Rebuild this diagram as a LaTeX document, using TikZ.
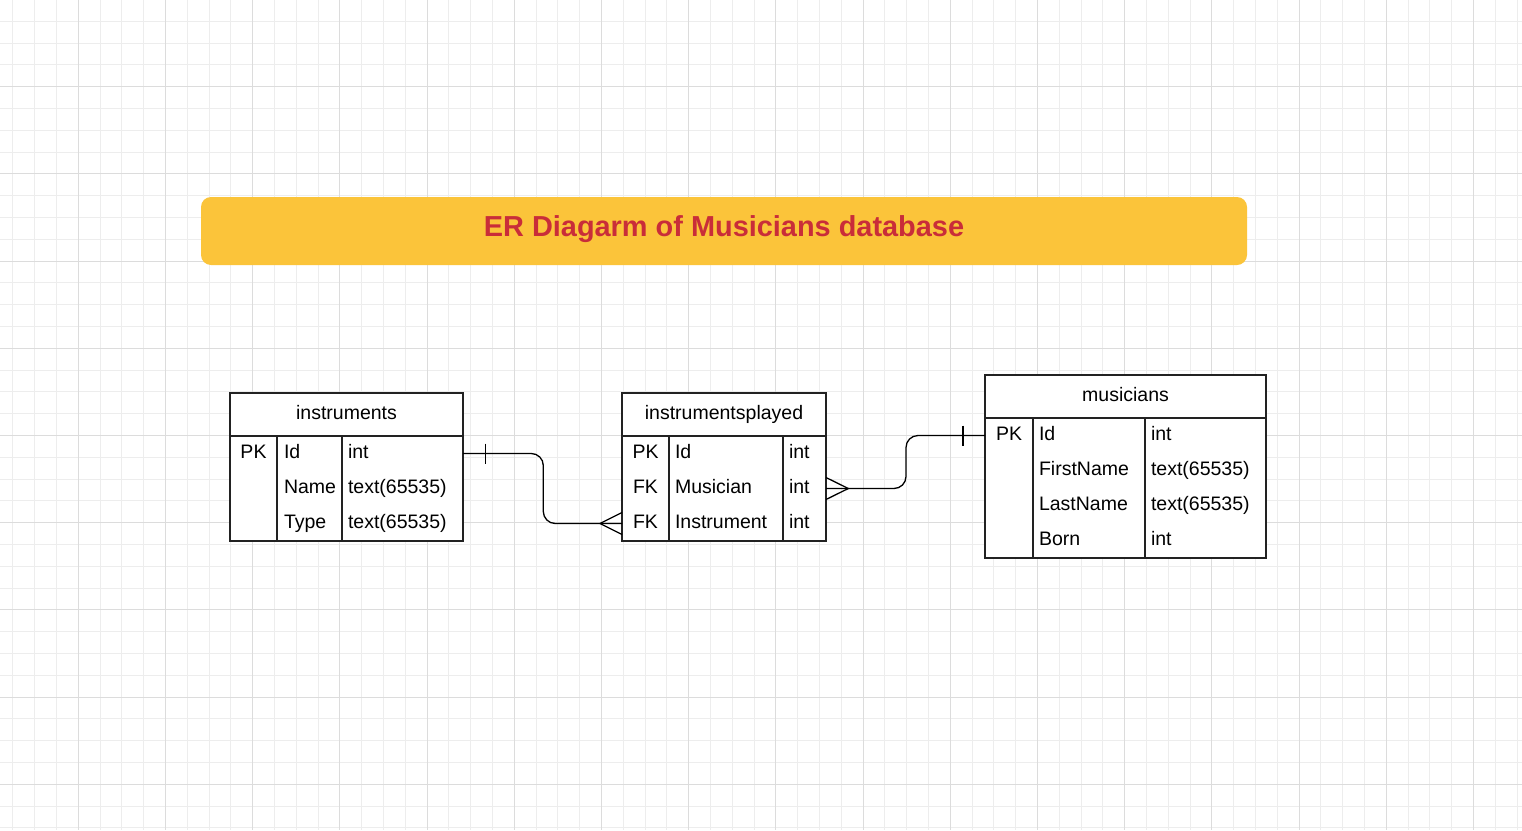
\documentclass[tikz,border=0pt]{standalone}
\usepackage{fontspec}
\setmainfont{Liberation Sans}
\usetikzlibrary{calc}
\definecolor{gridminor}{HTML}{EDEDED}
\definecolor{gridmajor}{HTML}{DCDCDC}
\definecolor{titlefill}{HTML}{FBC43A}
\definecolor{titlered}{HTML}{C92D39}
\definecolor{tblline}{HTML}{222222}
\begin{document}
\begin{tikzpicture}[x=1pt,y=-1pt,
  every node/.style={inner sep=0pt, outer sep=0pt, font=\fontsize{19.5}{23}\selectfont},
  minorline/.style={draw=gridminor, line width=1pt},
  majorline/.style={draw=gridmajor, line width=1pt},
  tblbox/.style={draw=tblline, line width=1.3pt, fill=white, rectangle},
  sepline/.style={draw=tblline, line width=1.3pt},
  cellL/.style={anchor=base west},
  cellC/.style={anchor=base},
  conn/.style={draw=black, line width=1.3pt, rounded corners=12pt},
  erdmark/.style={draw=black, line width=1.3pt},
  titlebox/.style={fill=titlefill, rounded corners=10pt, rectangle},
  titletext/.style={anchor=base, text=titlered, font=\fontsize{28.9}{34}\selectfont\bfseries}
]
\useasboundingbox (0,0) rectangle (1522,830);
\fill[white] (0,0) rectangle (1522,830);
% grid
\begin{scope}
\clip (0,0) rectangle (1522,830);
\foreach \i in {0,...,69} {\draw[minorline] ({12.8+21.8*\i},0) -- ++(0,830);}
\foreach \j in {0,...,38} {\draw[minorline] (0,{21.3+21.8*\j}) -- ++(1522,0);}
\foreach \i in {0,...,16} {\draw[majorline] ({78.2+87.2*\i},0) -- ++(0,830);}
\foreach \j in {0,...,8} {\draw[majorline] (0,{86.7+87.2*\j}) -- ++(1522,0);}
\end{scope}

% title
\node[titlebox, minimum width=1046pt, minimum height=68pt] (titlebox) at (724,231) {};
\node[titletext] (title) at (724,236.7) {ER Diagarm of Musicians database};

% table: instruments
\node[tblbox, minimum width=233pt, minimum height=148pt] (instruments) at (346.5,467) {};
\draw[sepline] (230,436) -- (463,436);
\draw[sepline] (277,436) -- (277,541);
\draw[sepline] (342,436) -- (342,541);
\node[cellC] (i-h) at (346.5,419.3) {instruments};
\node[cellC] (i-pk) at (253.5,458.5) {PK};
\node[cellL] (i-n1) at (284,458.5) {Id};
\node[cellL] (i-t1) at (348,458.5) {int};
\node[cellL] (i-n2) at (284,493.5) {Name};
\node[cellL] (i-t2) at (348,493.5) {text(65535)};
\node[cellL] (i-n3) at (284,528.5) {Type};
\node[cellL] (i-t3) at (348,528.5) {text(65535)};

% table: instrumentsplayed
\node[tblbox, minimum width=204pt, minimum height=148pt] (played) at (724,467) {};
\draw[sepline] (622,436) -- (826,436);
\draw[sepline] (669,436) -- (669,541);
\draw[sepline] (783,436) -- (783,541);
\node[cellC] (p-h) at (724,419.3) {instrumentsplayed};
\node[cellC] (p-k1) at (645.5,458.5) {PK};
\node[cellL] (p-n1) at (675,458.5) {Id};
\node[cellL] (p-t1) at (789,458.5) {int};
\node[cellC] (p-k2) at (645.5,493.5) {FK};
\node[cellL] (p-n2) at (675,493.5) {Musician};
\node[cellL] (p-t2) at (789,493.5) {int};
\node[cellC] (p-k3) at (645.5,528.5) {FK};
\node[cellL] (p-n3) at (675,528.5) {Instrument};
\node[cellL] (p-t3) at (789,528.5) {int};

% table: musicians
\node[tblbox, minimum width=281pt, minimum height=183pt] (musicians) at (1125.5,466.5) {};
\draw[sepline] (985,418) -- (1266,418);
\draw[sepline] (1033,418) -- (1033,558);
\draw[sepline] (1145,418) -- (1145,558);
\node[cellC] (m-h) at (1125.5,401.5) {musicians};
\node[cellC] (m-pk) at (1009,440.5) {PK};
\node[cellL] (m-n1) at (1039,440.5) {Id};
\node[cellL] (m-t1) at (1151,440.5) {int};
\node[cellL] (m-n2) at (1039,475.5) {FirstName};
\node[cellL] (m-t2) at (1151,475.5) {text(65535)};
\node[cellL] (m-n3) at (1039,510.5) {LastName};
\node[cellL] (m-t3) at (1151,510.5) {text(65535)};
\node[cellL] (m-n4) at (1039,545.5) {Born};
\node[cellL] (m-t4) at (1151,545.5) {int};

% connector anchors
\coordinate (iId) at (instruments.east |- 0,453.5);
\coordinate (pInstr) at (played.west |- 0,523.5);
\coordinate (pMus) at (played.east |- 0,488.5);
\coordinate (mId) at (musicians.west |- 0,435.5);

% connector 1: instruments.Id (one) -> instrumentsplayed.Instrument (many)
\draw[conn] (iId) -- (543.3,453.5) -- (543.3,523.5) -- (pInstr);
\draw[erdmark] ($(iId)+(22.5,-10)$) -- ($(iId)+(22.5,10)$);
\draw[erdmark] ($(pInstr)+(0,-11)$) -- ($(pInstr)+(-22,0)$) -- ($(pInstr)+(0,11)$);

% connector 2: instrumentsplayed.Musician (many) -> musicians.Id (one)
\draw[conn] (pMus) -- (906,488.5) -- (906,435.5) -- (mId);
\draw[erdmark] ($(pMus)+(0,-11)$) -- ($(pMus)+(22.3,0)$) -- ($(pMus)+(0,11)$);
\draw[erdmark] ($(mId)+(-22,-10)$) -- ($(mId)+(-22,10)$);
\end{tikzpicture}
\end{document}
